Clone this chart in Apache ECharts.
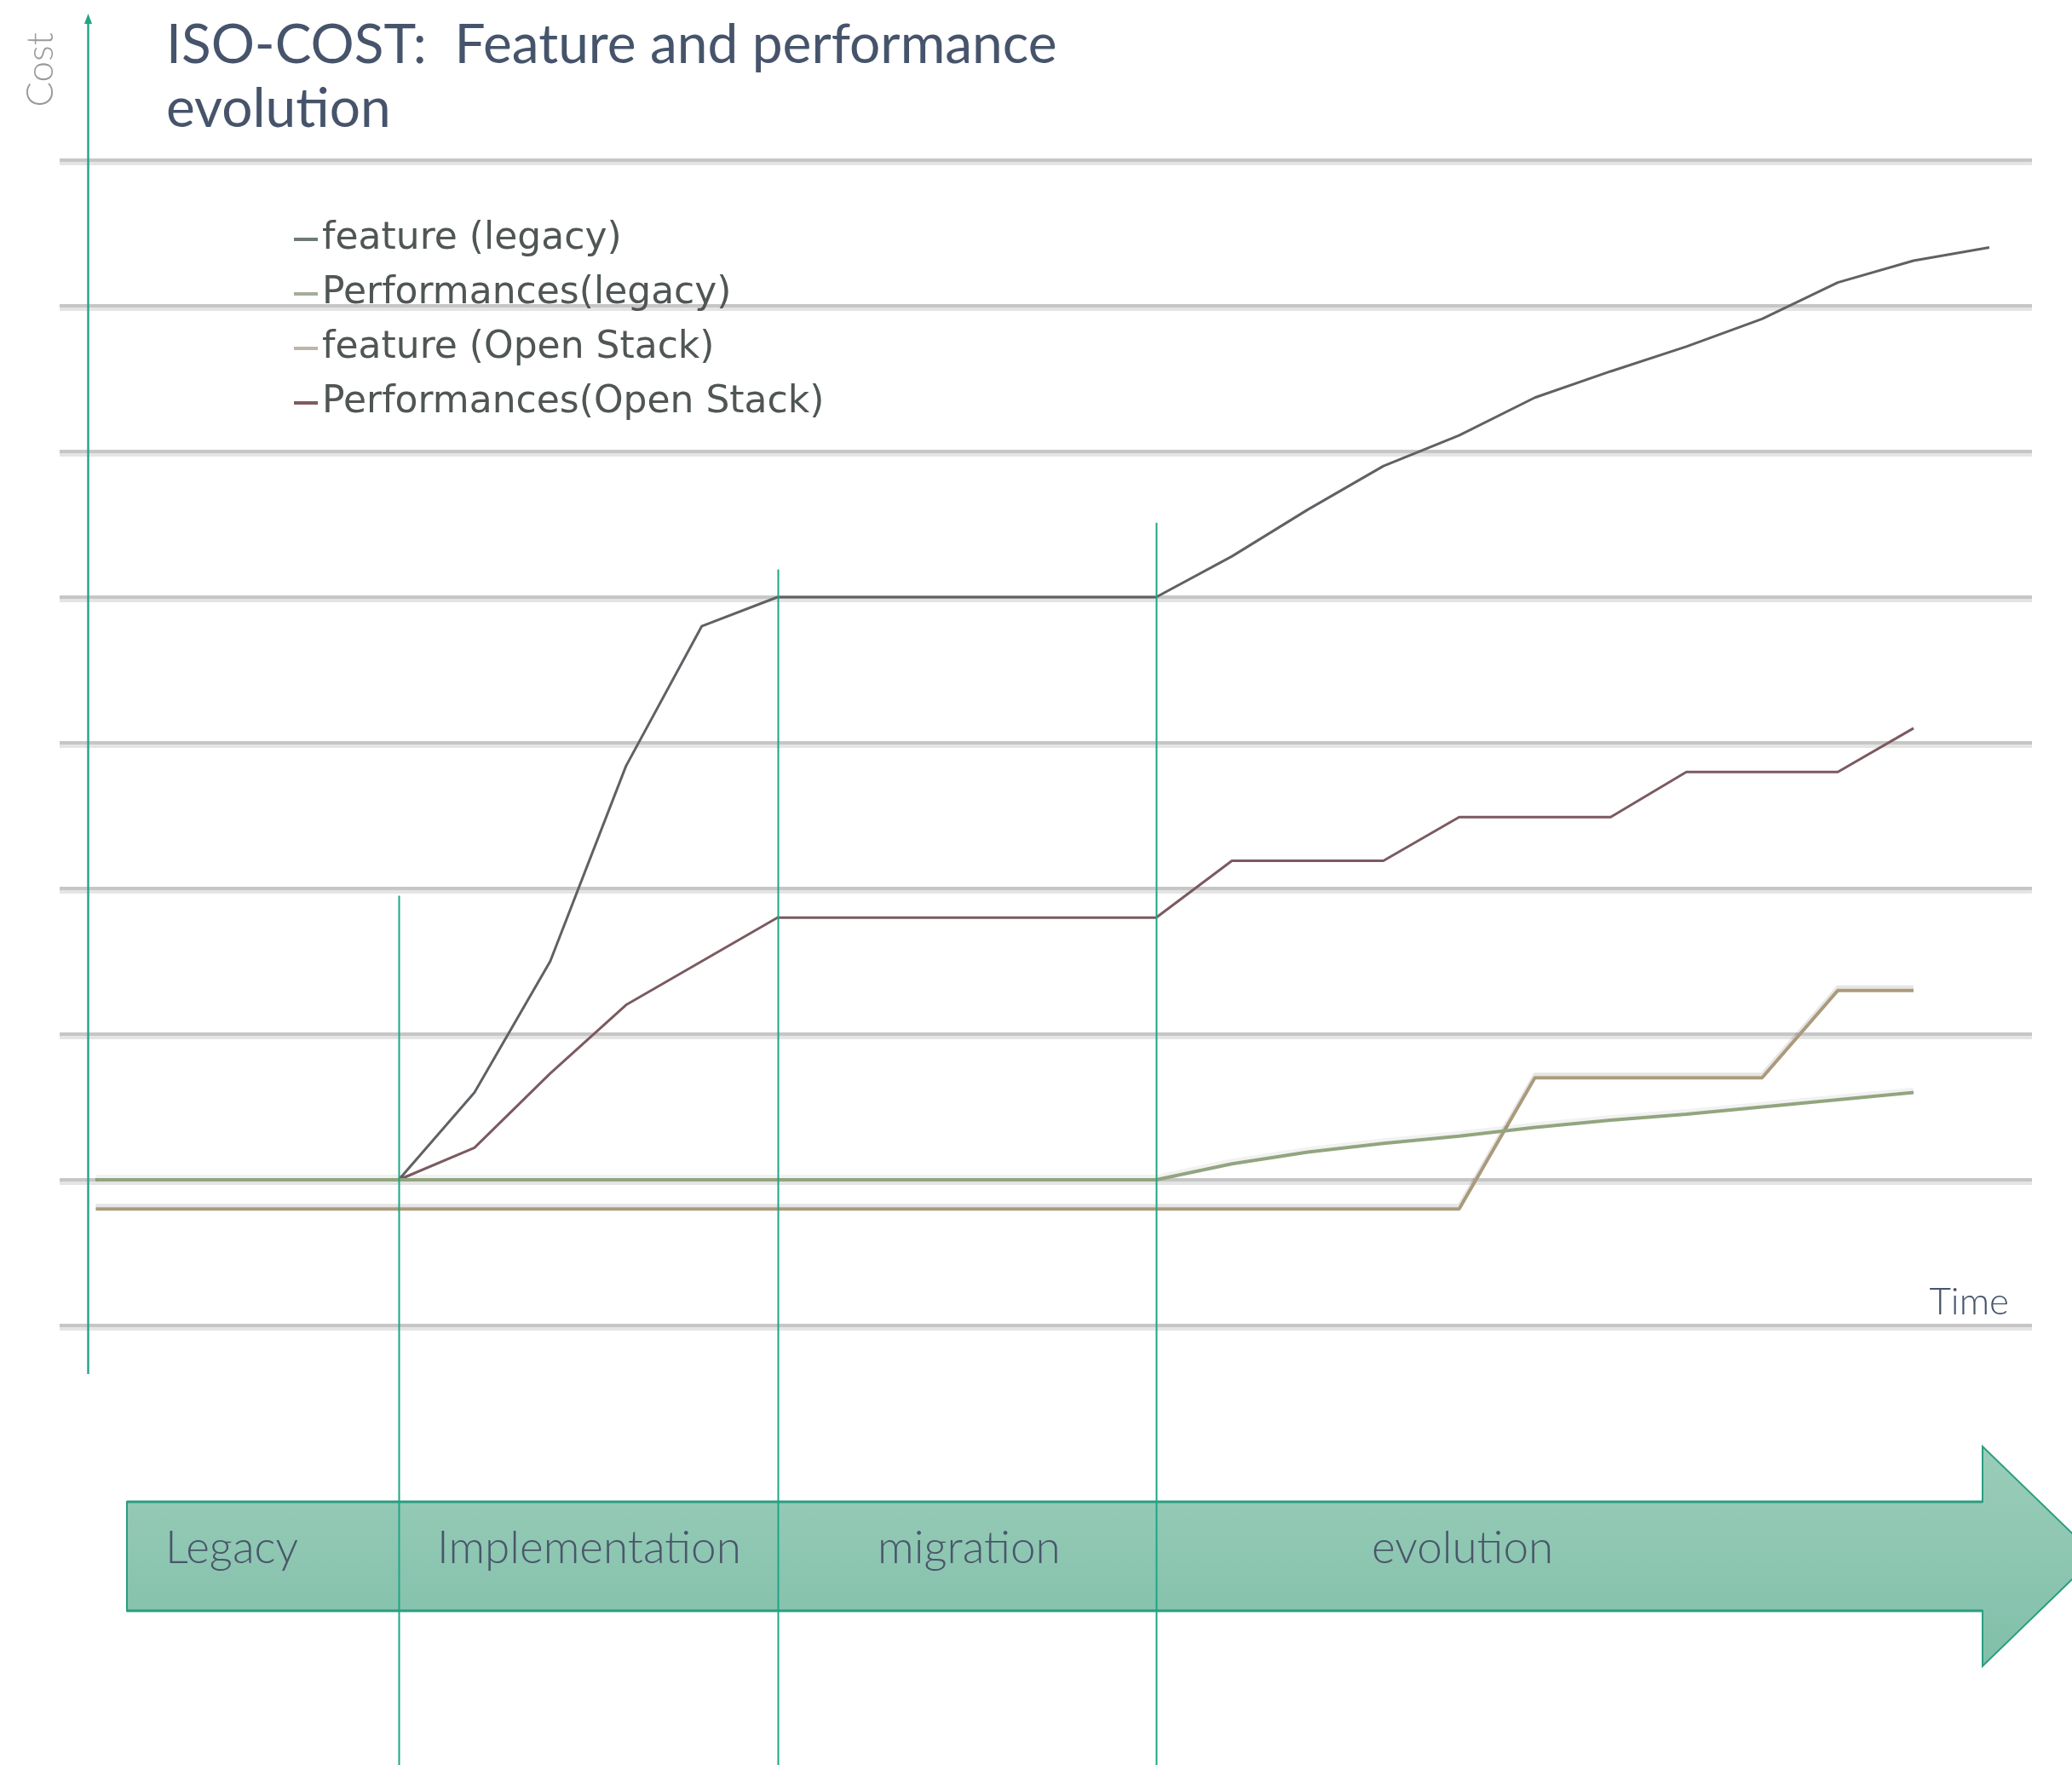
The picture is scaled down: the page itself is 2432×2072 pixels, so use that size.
<!DOCTYPE html>
<html>
<head>
<meta charset="utf-8">
<script src="https://cdn.jsdelivr.net/npm/echarts@6/dist/echarts.min.js"></script>
<style>
html,body{margin:0;padding:0;background:#fff;}
#chart{width:2432px;height:2072px;}
</style>
</head>
<body>
<div id="chart"></div>
<script>
// ---- data ----
const timeIndex = [0,1,2,3,4,5,6,7,8,9,10,11,12,13,14,15,16,17,18,19,20,21,22,23,24,25];
const seriesNames = ['feature (legacy)', 'Performances(legacy)', 'feature (Open Stack)', 'Performances(Open Stack)'];
const featureLegacy = [1,1,1,1,1,1.60,2.50,3.84,4.80,5,5,5,5,5,5,5.28,5.60,5.90,6.11,6.37,6.55,6.72,6.91,7.16,7.31,7.40];
const perfLegacy    = [1,1,1,1,1,1,1,1,1,1,1,1,1,1,1,1.11,1.19,1.25,1.30,1.36,1.41,1.45,1.50,1.55,1.60,null];
const featureOS     = [0.8,0.8,0.8,0.8,0.8,0.8,0.8,0.8,0.8,0.8,0.8,0.8,0.8,0.8,0.8,0.8,0.8,0.8,0.8,1.70,1.70,1.70,1.70,2.30,2.30,null];
const perfOS        = [1,1,1,1,1,1.22,1.73,2.20,2.50,2.80,2.80,2.80,2.80,2.80,2.80,3.19,3.19,3.19,3.49,3.49,3.49,3.80,3.80,3.80,4.10,null];
const phaseNames = ['Legacy', 'Implementation', 'migration', 'evolution'];
const phaseBoundaries = [4, 9, 14];

// ---- styling / layout ----
const lineColors = ['#5f6265', '#92a57f', '#ab9a7b', '#7b5a60'];
const legendColors = ['#6e7a78', '#a4ae9a', '#bdb5a8', '#7f5c5e'];
const teal = '#1fa584';
const slate = '#46546b';

function pairs(vals){ return timeIndex.map((x,i)=>[x, vals[i]]); }

const chart = echarts.init(document.getElementById('chart'), null, {renderer:'canvas'});

const option = {
  backgroundColor: '#ffffff',
  animation: false,
  title: {
    text: 'ISO-COST:  Feature and performance\nevolution',
    left: 190, top: 11,
    textStyle: {fontFamily: 'Lato', fontSize: 64, fontWeight: 400, color: slate, lineHeight: 75}
  },
  legend: {
    orient: 'vertical', left: 340, top: 244,
    icon: 'rect', itemWidth: 28, itemHeight: 4, itemGap: 0,
    textStyle: {fontFamily: 'DejaVu Sans', fontSize: 44, color: '#505555', lineHeight: 64, padding: [0,0,0,0]},
    data: seriesNames.map((n,i)=>({name: n, itemStyle: {color: legendColors[i]}}))
  },
  grid: {left: 70, right: 47, top: 188, bottom: 516, containLabel: false},
  xAxis: {
    type: 'value', min: -0.477, max: 25.563,
    axisLine: {show: false}, axisTick: {show: false}, axisLabel: {show: false}, splitLine: {show: false}
  },
  yAxis: {
    type: 'value', min: 0, max: 8, interval: 1,
    axisLine: {show: false}, axisTick: {show: false}, axisLabel: {show: false},
    splitLine: {show: true, lineStyle: {color: '#c6c6c6', width: 4, shadowColor: '#e4e4e4', shadowOffsetY: 4, shadowBlur: 0}}
  },
  series: [
    {name: seriesNames[0], type: 'line', data: pairs(featureLegacy), showSymbol: false, z: 3,
     lineStyle: {color: lineColors[0], width: 3}, itemStyle: {color: lineColors[0]}},
    {name: seriesNames[3], type: 'line', data: pairs(perfOS), showSymbol: false, z: 4,
     lineStyle: {color: lineColors[3], width: 3}, itemStyle: {color: lineColors[3]}},
    {name: seriesNames[2], type: 'line', data: pairs(featureOS), showSymbol: false, z: 5,
     lineStyle: {color: lineColors[2], width: 4, shadowColor: 'rgba(0,0,0,0.10)', shadowOffsetY: -4, shadowBlur: 0}, itemStyle: {color: lineColors[2]}},
    {name: seriesNames[1], type: 'line', data: pairs(perfLegacy), showSymbol: false, z: 6,
     lineStyle: {color: lineColors[1], width: 4, shadowColor: 'rgba(0,0,0,0.05)', shadowOffsetY: -4, shadowBlur: 0}, itemStyle: {color: lineColors[1]}}
  ]
};
chart.setOption(option);

// ---- overlay graphics computed from the chart's scales ----
const px = v => chart.convertToPixel({xAxisIndex: 0}, v);
const py = v => chart.convertToPixel({yAxisIndex: 0}, v);

const phaseTopValues = [2.95, 5.19, 5.51];
const H = 2072;
const bandLeft = 149, bandTop = 1763, bandBottom = 1891, headBase = 2327, headTop = 1698, headBottom = 1956;
const tipY = (headTop + headBottom) / 2;
const tipX = headBase + (tipY - headTop) / 0.97;

const graphics = [];
// timeline arrow
graphics.push({
  type: 'polygon', z: 1,
  shape: {points: [[bandLeft,bandTop],[headBase,bandTop],[headBase,headTop],[tipX,tipY],[headBase,headBottom],[headBase,bandBottom],[bandLeft,bandBottom]]},
  style: {
    fill: new echarts.graphic.LinearGradient(0,0,0,1,[{offset:0,color:'#9acdba'},{offset:1,color:'#80bfa9'}]),
    stroke: '#2a9d7f', lineWidth: 2
  }
});
graphics.push({type:'line', z: 2, shape:{x1:bandLeft,y1:bandTop,x2:headBase,y2:bandTop}, style:{stroke:'#2a9d7f', lineWidth:3}});
graphics.push({type:'line', z: 2, shape:{x1:bandLeft,y1:bandBottom,x2:headBase,y2:bandBottom}, style:{stroke:'#2a9d7f', lineWidth:3}});

// phase separators
phaseBoundaries.forEach((b,i)=>{
  const x = Math.round(px(b)) + 0.5;
  graphics.push({type:'line', z: 10, shape:{x1:x, y1:py(phaseTopValues[i]), x2:x, y2:H}, style:{stroke: teal, lineWidth: 2}});
});

// phase labels
const labelX = [194, 513, 1030, 1610];
phaseNames.forEach((n,i)=>{
  graphics.push({type:'text', z: 11, x: labelX[i], y: 1818,
    style:{text: n, fontFamily:'Lato', fontWeight: 300, fontSize: 53, fill: '#4a566a', verticalAlign:'middle', align:'left'}});
});

// y axis arrow line
const axisX = 103.5;
graphics.push({type:'line', z: 10, shape:{x1:axisX, y1:1613, x2:axisX, y2:24}, style:{stroke: teal, lineWidth: 2.4}});
graphics.push({type:'polygon', z: 10, shape:{points:[[axisX,16],[axisX-4.5,28],[axisX+4.5,28]]}, style:{fill: teal}});

// axis names
graphics.push({type:'text', z: 10, x: 48, y: 82, rotation: Math.PI/2,
  style:{text:'Cost', fontFamily:'Lato', fontWeight:300, fontSize: 44, fill:'#9a9a9a', align:'center', verticalAlign:'middle'}});
graphics.push({type:'text', z: 10, x: 2358, y: 1551,
  style:{text:'Time', fontFamily:'Lato', fontWeight:300, fontSize: 44, fill: slate, align:'right', verticalAlign:'bottom'}});

chart.setOption({graphic: graphics});
</script>
</body>
</html>
